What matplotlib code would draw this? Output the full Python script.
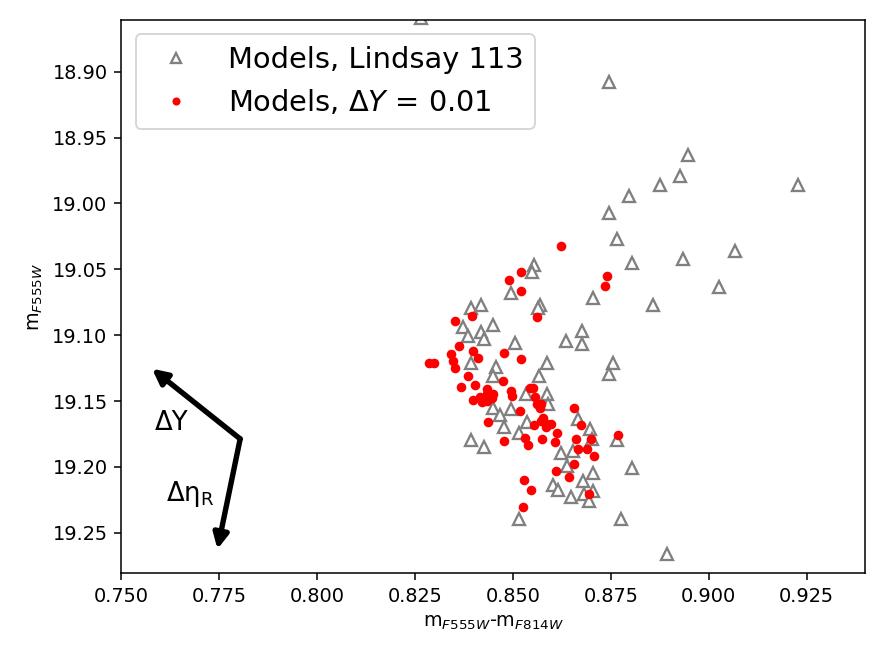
import numpy as np
import matplotlib
matplotlib.use('Agg')
import matplotlib.pyplot as plt

# Lindsay 113 model grid (colour, magnitude)
lindsay_col = [0.8265, 0.8746, 0.8948, 0.8927, 0.8876, 0.9227, 0.8797, 0.8746, 0.8766, 0.9066,
               0.8935, 0.8805, 0.9027, 0.8705, 0.8858, 0.8554, 0.8549, 0.8495, 0.8569, 0.8564,
               0.8393, 0.8418, 0.8372, 0.8449, 0.8385, 0.8418, 0.8426, 0.8505, 0.8636, 0.8677,
               0.8677, 0.8393, 0.8457, 0.8449, 0.8587, 0.8567, 0.8756, 0.8746, 0.8533, 0.8587,
               0.8590, 0.8449, 0.8495, 0.8467, 0.8477, 0.8536, 0.8516, 0.8666, 0.8697, 0.8702,
               0.8393, 0.8426, 0.8766, 0.8623, 0.8654, 0.8638, 0.8705, 0.8805, 0.8603, 0.8615,
               0.8679, 0.8649, 0.8682, 0.8705, 0.8695, 0.8516, 0.8776, 0.8894]
lindsay_mag = [18.8591, 18.9078, 18.9634, 18.9794, 18.9862, 18.9862, 18.9946, 19.0075, 19.0273, 19.0364,
               19.0425, 19.0456, 19.0638, 19.0715, 19.0775, 19.0471, 19.0524, 19.0684, 19.0775, 19.0791,
               19.0791, 19.0768, 19.0935, 19.0920, 19.1004, 19.0973, 19.1027, 19.1057, 19.1042, 19.0966,
               19.1065, 19.1209, 19.1240, 19.1308, 19.1209, 19.1308, 19.1209, 19.1293, 19.1445, 19.1445,
               19.1521, 19.1552, 19.1559, 19.1605, 19.1696, 19.1658, 19.1742, 19.1635, 19.1711, 19.1788,
               19.1795, 19.1848, 19.1795, 19.1894, 19.1879, 19.1993, 19.2046, 19.2008, 19.2138, 19.2176,
               19.2107, 19.2229, 19.2206, 19.2183, 19.2259, 19.2396, 19.2396, 19.2663]

# models with Delta Y = 0.01
dy_col = [0.8623, 0.8741, 0.8736, 0.8521, 0.8490, 0.8521, 0.8562, 0.8352, 0.8395, 0.8362,
          0.8398, 0.8477, 0.8521, 0.8285, 0.8298, 0.8342, 0.8347, 0.8352, 0.8411, 0.8385,
          0.8367, 0.8403, 0.8434, 0.8398, 0.8416, 0.8434, 0.8446, 0.8434, 0.8475, 0.8495,
          0.8498, 0.8544, 0.8551, 0.8556, 0.8562, 0.8569, 0.8436, 0.8518, 0.8477, 0.8577,
          0.8587, 0.8597, 0.8554, 0.8531, 0.8539, 0.8574, 0.8608, 0.8613, 0.8656, 0.8674,
          0.8700, 0.8666, 0.8689, 0.8707, 0.8769, 0.8656, 0.8610, 0.8643, 0.8528, 0.8546,
          0.8695, 0.8526, 0.8449, 0.8572, 0.8585, 0.8661, 0.8421, 0.8572]
dy_mag = [19.0326, 19.0555, 19.0631, 19.0524, 19.0578, 19.0669, 19.0859, 19.0890, 19.0852, 19.1080,
          19.1118, 19.1133, 19.1179, 19.1209, 19.1209, 19.1141, 19.1194, 19.1247, 19.1171, 19.1308,
          19.1392, 19.1377, 19.1407, 19.1491, 19.1468, 19.1445, 19.1476, 19.1498, 19.1346, 19.1422,
          19.1460, 19.1399, 19.1399, 19.1468, 19.1521, 19.1552, 19.1658, 19.1574, 19.1803, 19.1628,
          19.1673, 19.1673, 19.1681, 19.1780, 19.1833, 19.1788, 19.1810, 19.1742, 19.1552, 19.1681,
          19.1788, 19.1864, 19.1864, 19.1917, 19.1757, 19.1978, 19.2031, 19.2077, 19.2100, 19.2176,
          19.2206, 19.2305, 19.1445, 19.1651, 19.1696, 19.1788, 19.1506, 19.1521]

# direction arrows: common tail, heads for Delta Y and Delta eta_R
arrow_tail = (0.7804, 19.1788)
arrow_dY = (0.7579, 19.1255)
arrow_eta = (0.7746, 19.2625)

fig = plt.figure(figsize=(6.4, 4.73), dpi=138.5)
ax = fig.add_axes([0.1366, 0.1252, 0.8397, 0.8443])

ax.plot(lindsay_col, lindsay_mag, '^', ms=6.5, mfc='white', mec='grey', mew=1.2,
        ls='none', label='Models, Lindsay 113')
ax.plot(dy_col, dy_mag, 'o', ms=4.0, color='red', ls='none',
        label=r'Models, $\Delta Y$ = 0.01')

for head in (arrow_dY, arrow_eta):
    ax.annotate('', xy=head, xytext=arrow_tail,
                arrowprops=dict(arrowstyle='-|>', lw=2.8, color='black',
                                mutation_scale=16, shrinkA=0, shrinkB=0))
ax.text(0.7630, 19.1666, 'ΔY', fontsize=13.5, ha='center', va='center')
ax.text(0.7676, 19.2206, r'Δη$_\mathregular{R}$', fontsize=13.5, ha='center', va='center')

ax.set_xlim(0.75, 0.94)
ax.set_ylim(19.2806, 18.8607)
ax.set_xticks(np.arange(0.75, 0.926, 0.025))
ax.set_yticks(np.arange(18.90, 19.251, 0.05))
ax.set_xlabel(r'm$_{F555W}$-m$_{F814W}$')
ax.set_ylabel(r'm$_{F555W}$')

ax.legend(loc='upper left', fontsize=15, markerscale=0.8)

fig.savefig('out.png', dpi=138.5)
